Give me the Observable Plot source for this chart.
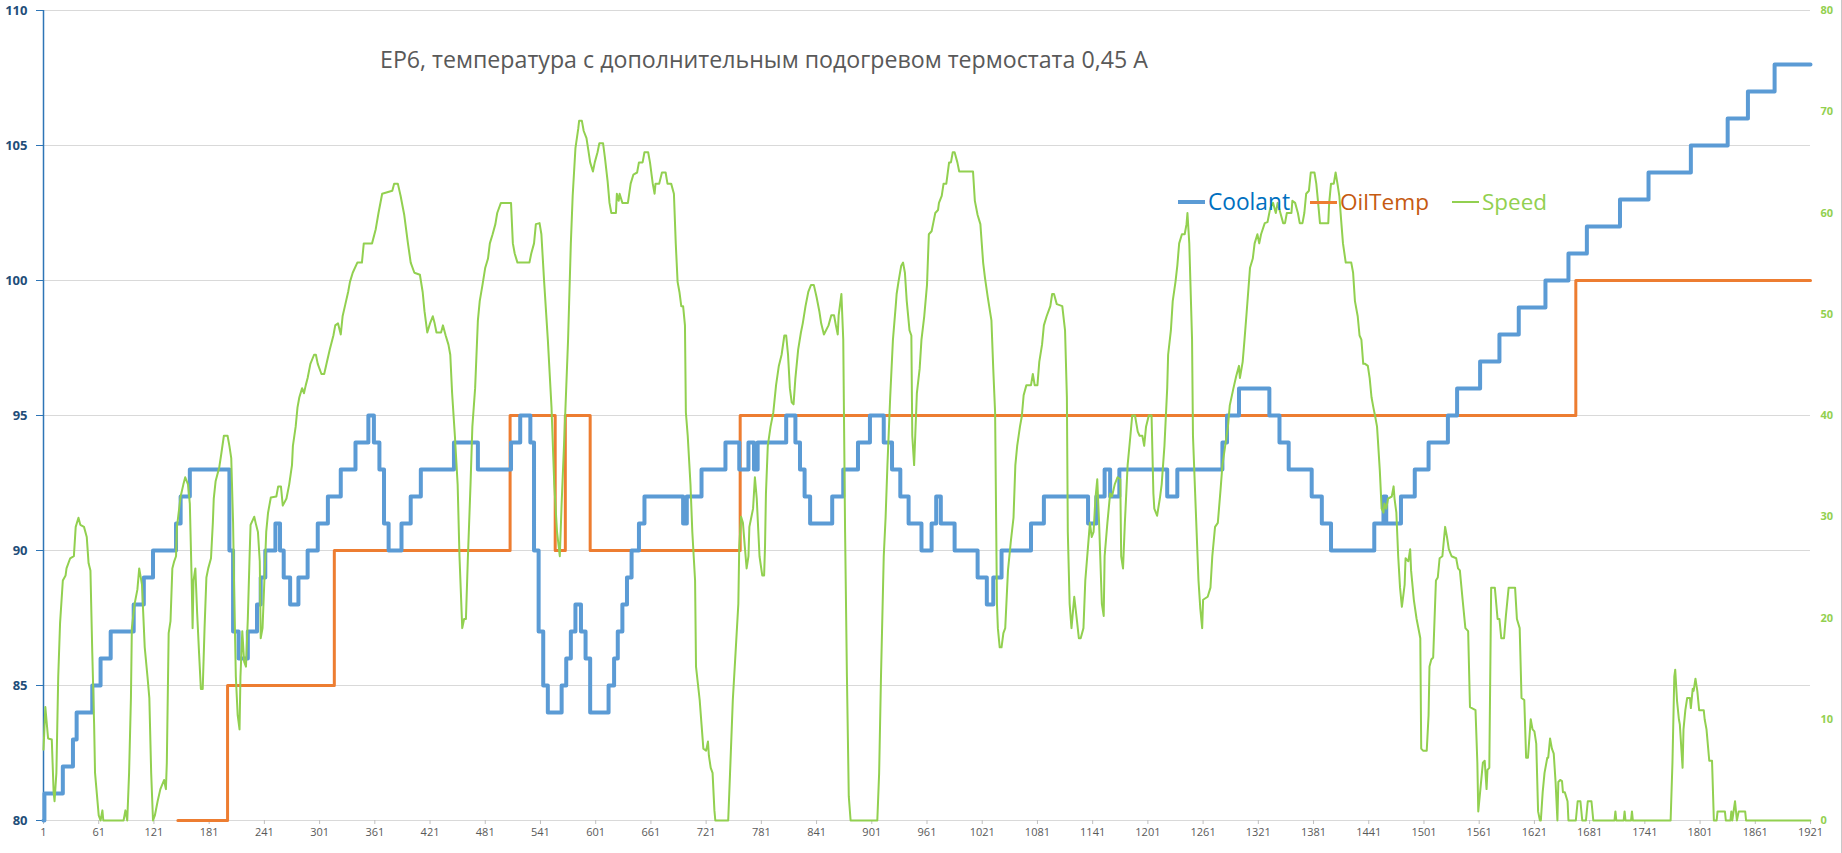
<!DOCTYPE html>
<html><head><meta charset="utf-8">
<script src="https://cdn.jsdelivr.net/npm/d3@7"></script>
<script src="https://cdn.jsdelivr.net/npm/@observablehq/plot@0.6"></script>
<style>
html,body{margin:0;padding:0;background:#fff;}
#wrap{position:relative;width:1842px;height:853px;overflow:hidden;font-family:"Open Sans",sans-serif;}
#title{position:absolute;left:380px;top:47px;color:#595959;white-space:nowrap;font-size:23px;line-height:24px;}
.leg{position:absolute;top:187px;height:30px;display:flex;align-items:center;white-space:nowrap;font-size:23px;line-height:30px;}
.sw{display:inline-block;width:27px;margin-right:3px;}
#edge{position:absolute;right:0;top:0;width:1px;height:853px;background:#c8c8c8;}
</style></head><body>
<div id="wrap"><div id="chart"></div><div id="title"></div><div id="legend"></div><div id="edge"></div></div>
<script>
const titleText = "EP6, температура с дополнительным подогревом термостата 0,45 А";
const xTicks = d3.range(1, 1922, 60);
const tempTicks = [80, 85, 90, 95, 100, 105, 110];
const speedTicks = [0, 10, 20, 30, 40, 50, 60, 70, 80];
const seriesNames = ["Coolant", "OilTemp", "Speed"];

const coolantT = [1,2,22,33,37,54,63,74,99,110,120,145,150,160,203,207,213,223,233,237,242,253,258,262,269,278,288,299,310,324,340,354,360,366,371,376,390,400,411,447,473,509,519,530,534,539,544,549,564,569,574,579,585,590,595,615,621,625,630,635,640,648,654,696,700,716,742,757,767,773,777,808,818,823,828,834,858,870,886,899,914,923,932,941,955,966,971,976,991,1016,1026,1033,1042,1074,1088,1136,1145,1154,1160,1170,1222,1233,1282,1287,1300,1333,1344,1354,1379,1390,1400,1447,1457,1460,1476,1491,1506,1527,1537,1562,1583,1604,1633,1658,1678,1714,1745,1791,1831,1853,1882,1921];
const coolantV = [80,81,82,83,84,85,86,87,88,89,90,91,92,93,90,87,86,87,88,89,90,91,90,89,88,89,90,91,92,93,94,95,94,93,91,90,91,92,93,94,93,94,95,94,90,87,85,84,85,86,87,88,87,86,84,85,86,87,88,89,90,91,92,91,92,93,94,93,94,93,94,95,94,93,92,91,92,93,94,95,94,93,92,91,90,91,92,91,90,89,88,89,90,91,92,91,92,93,92,93,92,93,94,95,96,95,94,93,92,91,90,91,92,91,92,93,94,95,96,97,98,99,100,101,102,103,104,105,106,107,108,108];

const oilT = [147,201,317,508,557,568,595,758,1666,1921];
const oilV = [80,85,90,95,90,95,90,95,100,100];

const speedPoints = [
[1,7],[3,11.2],[6,8.1],[10,8],[12,2.8],[13,1.9],[15,4.7],[17,14.2],[19,19.5],[22,23.7],[25,24.2],[26,24.9],[30,25.9],[34,26.1],[36,29],[39,29.9],[41,29.2],[45,29],[48,28],[50,25.4],[52,24.7],[54,16.6],[56,9.5],[57,4.7],[61,0.5],[63,0],[65,1],[66,0],[88,0],[90,1],[92,0],[94,4.7],[96,12.1],[97,19],[100,21.4],[103,22.8],[105,24.9],[108,23.3],[111,17.1],[114,14.2],[116,12.1],[118,4.7],[120,0],[122,0.5],[125,1.9],[128,3.1],[132,4],[134,3.1],[135,5.7],[137,18.5],[139,19.7],[141,24.9],[143,25.6],[145,26.1],[146,29],[150,32],[153,33.2],[155,33.9],[158,33.2],[160,31.3],[162,23.7],[163,19],[164,23.7],[166,24.9],[168,20.4],[170,16.6],[172,13],[174,13],[176,19],[178,24],[180,24.9],[183,25.9],[185,29.4],[186,31.8],[188,33.5],[192,34.9],[194,36.1],[197,38],[201,38],[203,37],[205,35.8],[207,29.4],[208,23.7],[210,14.2],[212,10.4],[214,9],[215,14.2],[217,18.7],[219,15.7],[221,15.2],[223,19.9],[225,26.3],[226,29.2],[230,30],[232,29.2],[234,28.5],[236,25.6],[237,18],[239,19],[241,23.7],[243,28.5],[245,30.4],[248,31.9],[254,32],[256,33],[259,33],[261,31.1],[265,31.8],[268,33.2],[271,35.1],[272,37],[275,38.9],[277,40.8],[279,41.8],[282,42.7],[284,42.2],[286,43],[288,43.7],[291,45.1],[295,46],[297,46],[299,45.1],[303,44.1],[306,44.1],[309,45.3],[312,46.5],[316,47.9],[318,48.9],[321,49.1],[324,48],
[326,49.8],[329,51],[332,52.2],[334,53.2],[337,54.1],[342,55.1],[347,55.1],[349,57],[358,57],[362,58.4],[365,60],[369,61.9],[380,62.2],[382,62.9],[386,62.9],[389,61.7],[393,59.8],[397,57],[400,55.1],[404,54.1],[410,53.9],[413,52.2],[415,50.3],[418,48.2],[421,49.1],[424,49.8],[426,49.1],[428,48.2],[433,48.2],[435,48.9],[438,47.9],[441,47],[443,46],[445,42.2],[448,38],[451,33.2],[453,26.1],[456,19],[458,19.9],[460,19.9],[462,25.6],[465,33.2],[467,38.9],[470,42.7],[473,49.4],[475,51.3],[478,52.9],[481,54.6],[484,55.5],[486,57],[489,57.9],[492,58.9],[494,60],[498,61],[509,61],[511,57],[513,56],[516,55.1],[529,55.1],[531,56],[534,57],[536,58.9],[540,59],[542,57.9],[545,53.2],[549,47.5],[553,40.8],[556,33.2],[559,28.5],[562,26.1],[564,31.3],[567,38],[571,47.5],[574,57],[576,61.7],[579,66.4],[582,68.3],[583,69.1],[586,69.1],[588,68.1],[591,67.4],[593,66.2],[595,65],[598,64.1],[600,65],[603,66],[605,66.9],[609,66.9],[611,65.5],[614,63.1],[616,61],[618,60],[623,60],[624,61.9],[626,61.2],[627,61.9],[630,61],[636,61],[639,62.9],[642,63.8],[646,64],[648,65],
[652,65],[654,66],[658,66],[660,65],[663,62.9],[665,61.9],[666,62.9],[670,62.9],[673,64],[677,64],[679,62.9],[683,62.9],[686,61.9],[688,57],[690,53.2],[692,52.2],[694,50.8],[696,50.8],[698,48.9],[699,40.3],[701,38],[704,33.2],[706,28.5],[709,23.7],[710,15.2],[714,11.9],[716,9.5],[718,7.1],[721,6.9],[723,7.8],[724,6.4],[726,5.2],[728,4.7],[730,1],[731,0],[745,0],[747,4.7],[750,11.9],[753,16.6],[756,21.4],[757,27.1],[759,30],[761,29.4],[763,27.1],[765,24.9],[767,26.1],[768,29],[770,29.9],[772,30.8],[774,33.9],[776,31.8],[779,26.1],[782,24.2],[784,24.2],[785,27.1],[786,32.3],[788,37],[791,38.9],[794,40.3],[797,43],[800,44.9],[803,46],[806,47.9],[808,47.9],[810,46],[812,42.7],[814,41.3],[816,41.1],[818,43.7],[821,46.5],[824,48.2],[826,49.1],[829,50.8],[832,52.2],[835,52.9],[838,52.9],[841,51.7],[844,50.3],[846,49.1],[849,48],[854,48.9],[857,49.9],[860,49.9],[862,48.9],[864,48],[865,49.9],[868,52],[870,47.5],[872,28.5],[874,14.2],[876,2.4],[878,0],[907,0],[909,4.7],[911,14.2],[914,26.1],[916,29.9],[918,35.1],[921,41.8],[924,47.5],[927,50.8],[928,52],[930,53.2],[933,54.8],[935,55.1],[937,54.1],[939,51.3],[942,48.4],[944,47.9],[945,38],[947,35.1],[950,42.2],[953,44.6],[955,47.5],[958,49.8],[961,52.9],[963,57.9],[966,58.2],[968,59.1],[970,60],[973,60.3],[974,61],[977,61.7],
[979,62.9],[982,62.9],[985,65],[987,65],[989,66],[991,66],[994,65],[996,64.1],[1011,64.1],[1013,61.2],[1016,59.8],[1019,58.9],[1022,55.1],[1024,53.6],[1027,51.7],[1031,49.4],[1033,44.6],[1035,40.3],[1037,21.4],[1038,19],[1040,17.1],[1042,17.1],[1044,18.5],[1046,19],[1049,24.7],[1052,27.5],[1055,29.9],[1057,35.1],[1059,37],[1062,38.9],[1064,39.9],[1066,42],[1069,43],[1074,43],[1076,44.1],[1078,43],[1081,43],[1083,45.3],[1086,47],[1088,48.9],[1091,49.8],[1095,50.8],[1097,52],[1099,52],[1102,51],[1108,50.8],[1111,48.4],[1113,41.8],[1114,28.5],[1116,21.4],[1118,19],[1121,22.1],[1124,19.7],[1126,18],[1128,18],[1131,19],[1133,23.7],[1136,27.1],[1138,29.4],[1140,28],[1142,28.5],[1144,31.8],[1146,33.7],[1148,29.4],[1151,21.4],[1153,20.2],[1154,26.1],[1157,29.4],[1160,32.3],[1162,32],[1165,33.2],[1168,33.9],[1171,33.7],[1172,26.1],[1174,24.9],[1176,29.4],[1179,35.1],[1182,38],[1184,40],[1187,40],[1190,38.4],[1192,38],[1195,38],[1197,37],[1199,38.9],[1202,40],[1205,40],[1207,32.3],[1208,30.8],[1211,30.1],[1214,31.8],[1216,33.2],[1219,37],[1222,42.7],[1223,46],[1226,48.4],[1228,51.3],[1231,53.2],[1233,54.8],[1235,57],[1238,57.9],[1241,57.9],[1243,58.9],[1244,60],[1246,57],[1249,47.5],[1250,38],[1253,30.8],[1256,23.7],[1258,20.9],[1260,19],[1261,21.8],[1266,22.1],[1269,23],[1271,26.1],[1274,29],[1277,29.4],[1280,32.7],[1282,35.1],[1285,37],[1288,38.9],[1290,41],[1294,42.7],[1297,43.9],[1300,44.9],[1301,43.7],
[1304,45.3],[1306,47.5],[1308,49.8],[1310,52.2],[1312,54.6],[1315,55.5],[1317,57],[1320,57.9],[1322,57],[1324,57.9],[1328,59],[1331,59.1],[1334,60.5],[1337,61],[1340,60],[1342,61],[1345,60],[1348,59],[1350,59],[1352,60],[1357,60],[1358,61.2],[1361,61],[1364,60],[1366,59],[1369,59],[1371,60],[1373,61.9],[1376,62.2],[1378,64],[1382,64],[1384,62.9],[1386,61],[1388,59],[1397,59],[1398,61],[1400,62.9],[1403,62.9],[1405,64],[1407,62.9],[1409,61.7],[1411,59.3],[1413,57],[1416,55.1],[1422,55.1],[1424,54.1],[1426,51.3],[1429,49.8],[1431,47.9],[1433,47.5],[1435,45.1],[1437,45.1],[1440,44.9],[1442,43.7],[1444,41.8],[1446,40.8],[1448,39.9],[1450,38.9],[1451,37.5],[1453,34.6],[1455,30.8],[1457,30.4],[1458,31.3],[1460,30.8],[1462,31.8],[1466,32],[1468,33],[1469,31.8],[1471,30.4],[1473,26.1],[1475,23],[1477,21.1],[1480,23.3],[1481,25.9],[1484,25.6],[1486,26.8],[1487,24.7],[1490,21.8],[1493,19.9],[1496,18.5],[1497,18],[1498,7.1],[1500,6.9],[1504,6.9],[1506,10.4],[1507,15.2],[1509,15.9],[1511,16.1],[1514,23.7],[1516,24],[1518,25.9],[1521,26.1],[1524,29],[1526,28],[1528,26.8],[1531,26.1],[1536,25.9],[1538,24.9],[1540,24.7],[1543,21.8],[1546,19],[1549,18.7],[1551,11.2],[1557,10.9],[1559,5.7],[1560,0.9],[1562,2.8],[1565,5.7],[1567,5.9],[1569,3.1],[1570,5],[1572,5.2],[1574,23],[1578,23],[1581,19.9],[1583,19.9],[1585,18],[1588,18],[1590,20.2],[1593,23],[1600,23],[1602,19.9],[1605,19],[1607,12.1],[1610,11.9],[1612,6.2],[1614,6.2],[1617,10],[1619,9],[1621,8.8],[1623,7.6],[1625,0.9],[1627,0],
[1628,0],[1630,2.8],[1632,4.7],[1635,6.2],[1636,6.2],[1638,8.1],[1640,7.1],[1642,6.6],[1644,3.8],[1646,0],[1647,3.8],[1649,4],[1651,3.9],[1652,2.8],[1654,2.8],[1657,1.9],[1658,0],[1666,0],[1668,1.9],[1671,1.9],[1673,0],[1677,0],[1679,1.9],[1683,1.9],[1685,0],[1708,0],[1709,0.9],[1710,0],[1718,0],[1719,0.9],[1720,0],[1726,0],[1727,0.9],[1728,0],[1769,0],[1771,5.7],[1773,14.2],[1774,14.9],[1776,11.8],[1778,10],[1779,9.5],[1782,5.2],[1783,9],[1785,10.9],[1787,12.1],[1790,12.1],[1791,11.1],[1793,13],[1794,12.8],[1796,14],[1798,12.8],[1800,10.9],[1805,10.9],[1806,10],[1808,9],[1811,5.9],[1814,5.9],[1816,0],[1819,0],[1820,0.9],[1828,0.9],[1829,0],[1834,0],[1835,0.9],[1836,0],[1839,1.9],[1841,0],[1843,0.9],[1850,0.9],[1851,0],[1921,0]
];

const colors = {Coolant: "#5b9bd5", OilTemp: "#ed7d31", Speed: "#92d050"};
const legendTextColors = {Coolant: "#0070c0", OilTemp: "#c55a11", Speed: "#92d050"};
const widths = {Coolant: 4, OilTemp: 3, Speed: 2};

// speed (0..80) mapped onto the temperature scale (80..110)
const toY = s => 80 + s * 30 / 80;
const fromY = y => Math.round((y - 80) * 80 / 30);

const coolant = coolantT.map((t, i) => ({t, v: coolantV[i]}));
const oil = oilT.map((t, i) => ({t, v: oilV[i]}));
const speed = speedPoints.map(([t, s]) => ({t, v: toY(s)}));

const chart = Plot.plot({
  width: 1842, height: 853,
  marginTop: 10, marginBottom: 33, marginLeft: 43, marginRight: 32,
  x: {domain: [1, 1921]},
  y: {domain: [80, 110]},
  style: {fontFamily: "Open Sans, sans-serif", background: "#fff", overflow: "visible"},
  marks: [
    Plot.gridY(tempTicks, {stroke: "#d9d9d9", strokeOpacity: 1}),
    Plot.ruleX([1], {stroke: "#2e75b6", strokeWidth: 1.5}),
    Plot.axisY(tempTicks, {anchor: "left", tickSize: 7, tickPadding: 9, tickFormat: "d", stroke: "#2e75b6", fill: "#1f4e79", fontWeight: "bold", fontSize: 13, label: null}),
    Plot.axisY(speedTicks.map(toY), {anchor: "right", tickSize: 0, tickPadding: 10, tickFormat: fromY, fill: "#92d050", fontWeight: "bold", fontSize: 11, label: null}),
    Plot.axisX(xTicks, {tickSize: 4, tickPadding: 4, tickFormat: "d", stroke: "#bfbfbf", fill: "#595959", fontSize: 11, label: null}),
    Plot.line(oil, {x: "t", y: "v", curve: "step-after", stroke: colors.OilTemp, strokeWidth: widths.OilTemp}),
    Plot.line(coolant, {x: "t", y: "v", curve: "step-after", stroke: colors.Coolant, strokeWidth: widths.Coolant}),
    Plot.line(speed, {x: "t", y: "v", stroke: colors.Speed, strokeWidth: widths.Speed})
  ]
});
document.getElementById("chart").appendChild(chart);

function fit(el, target) {
  const fs = parseFloat(getComputedStyle(el).fontSize);
  const w = el.getBoundingClientRect().width;
  if (w > 0) el.style.fontSize = (fs * target / w).toFixed(2) + "px";
}

const title = document.getElementById("title");
title.textContent = titleText;
fit(title, 768);

const legendPos = {Coolant: 1178, OilTemp: 1310, Speed: 1452};
const legendTextW = {Coolant: 82, OilTemp: 89, Speed: 65};
const legend = document.getElementById("legend");
for (const name of seriesNames) {
  const item = document.createElement("div");
  item.className = "leg";
  item.style.left = legendPos[name] + "px";
  const sw = document.createElement("span");
  sw.className = "sw";
  sw.style.height = widths[name] + "px";
  sw.style.background = colors[name];
  const tx = document.createElement("span");
  tx.textContent = name;
  tx.style.color = legendTextColors[name];
  item.appendChild(sw); item.appendChild(tx);
  legend.appendChild(item);
  fit(tx, legendTextW[name]);
}
</script>
</body></html>
